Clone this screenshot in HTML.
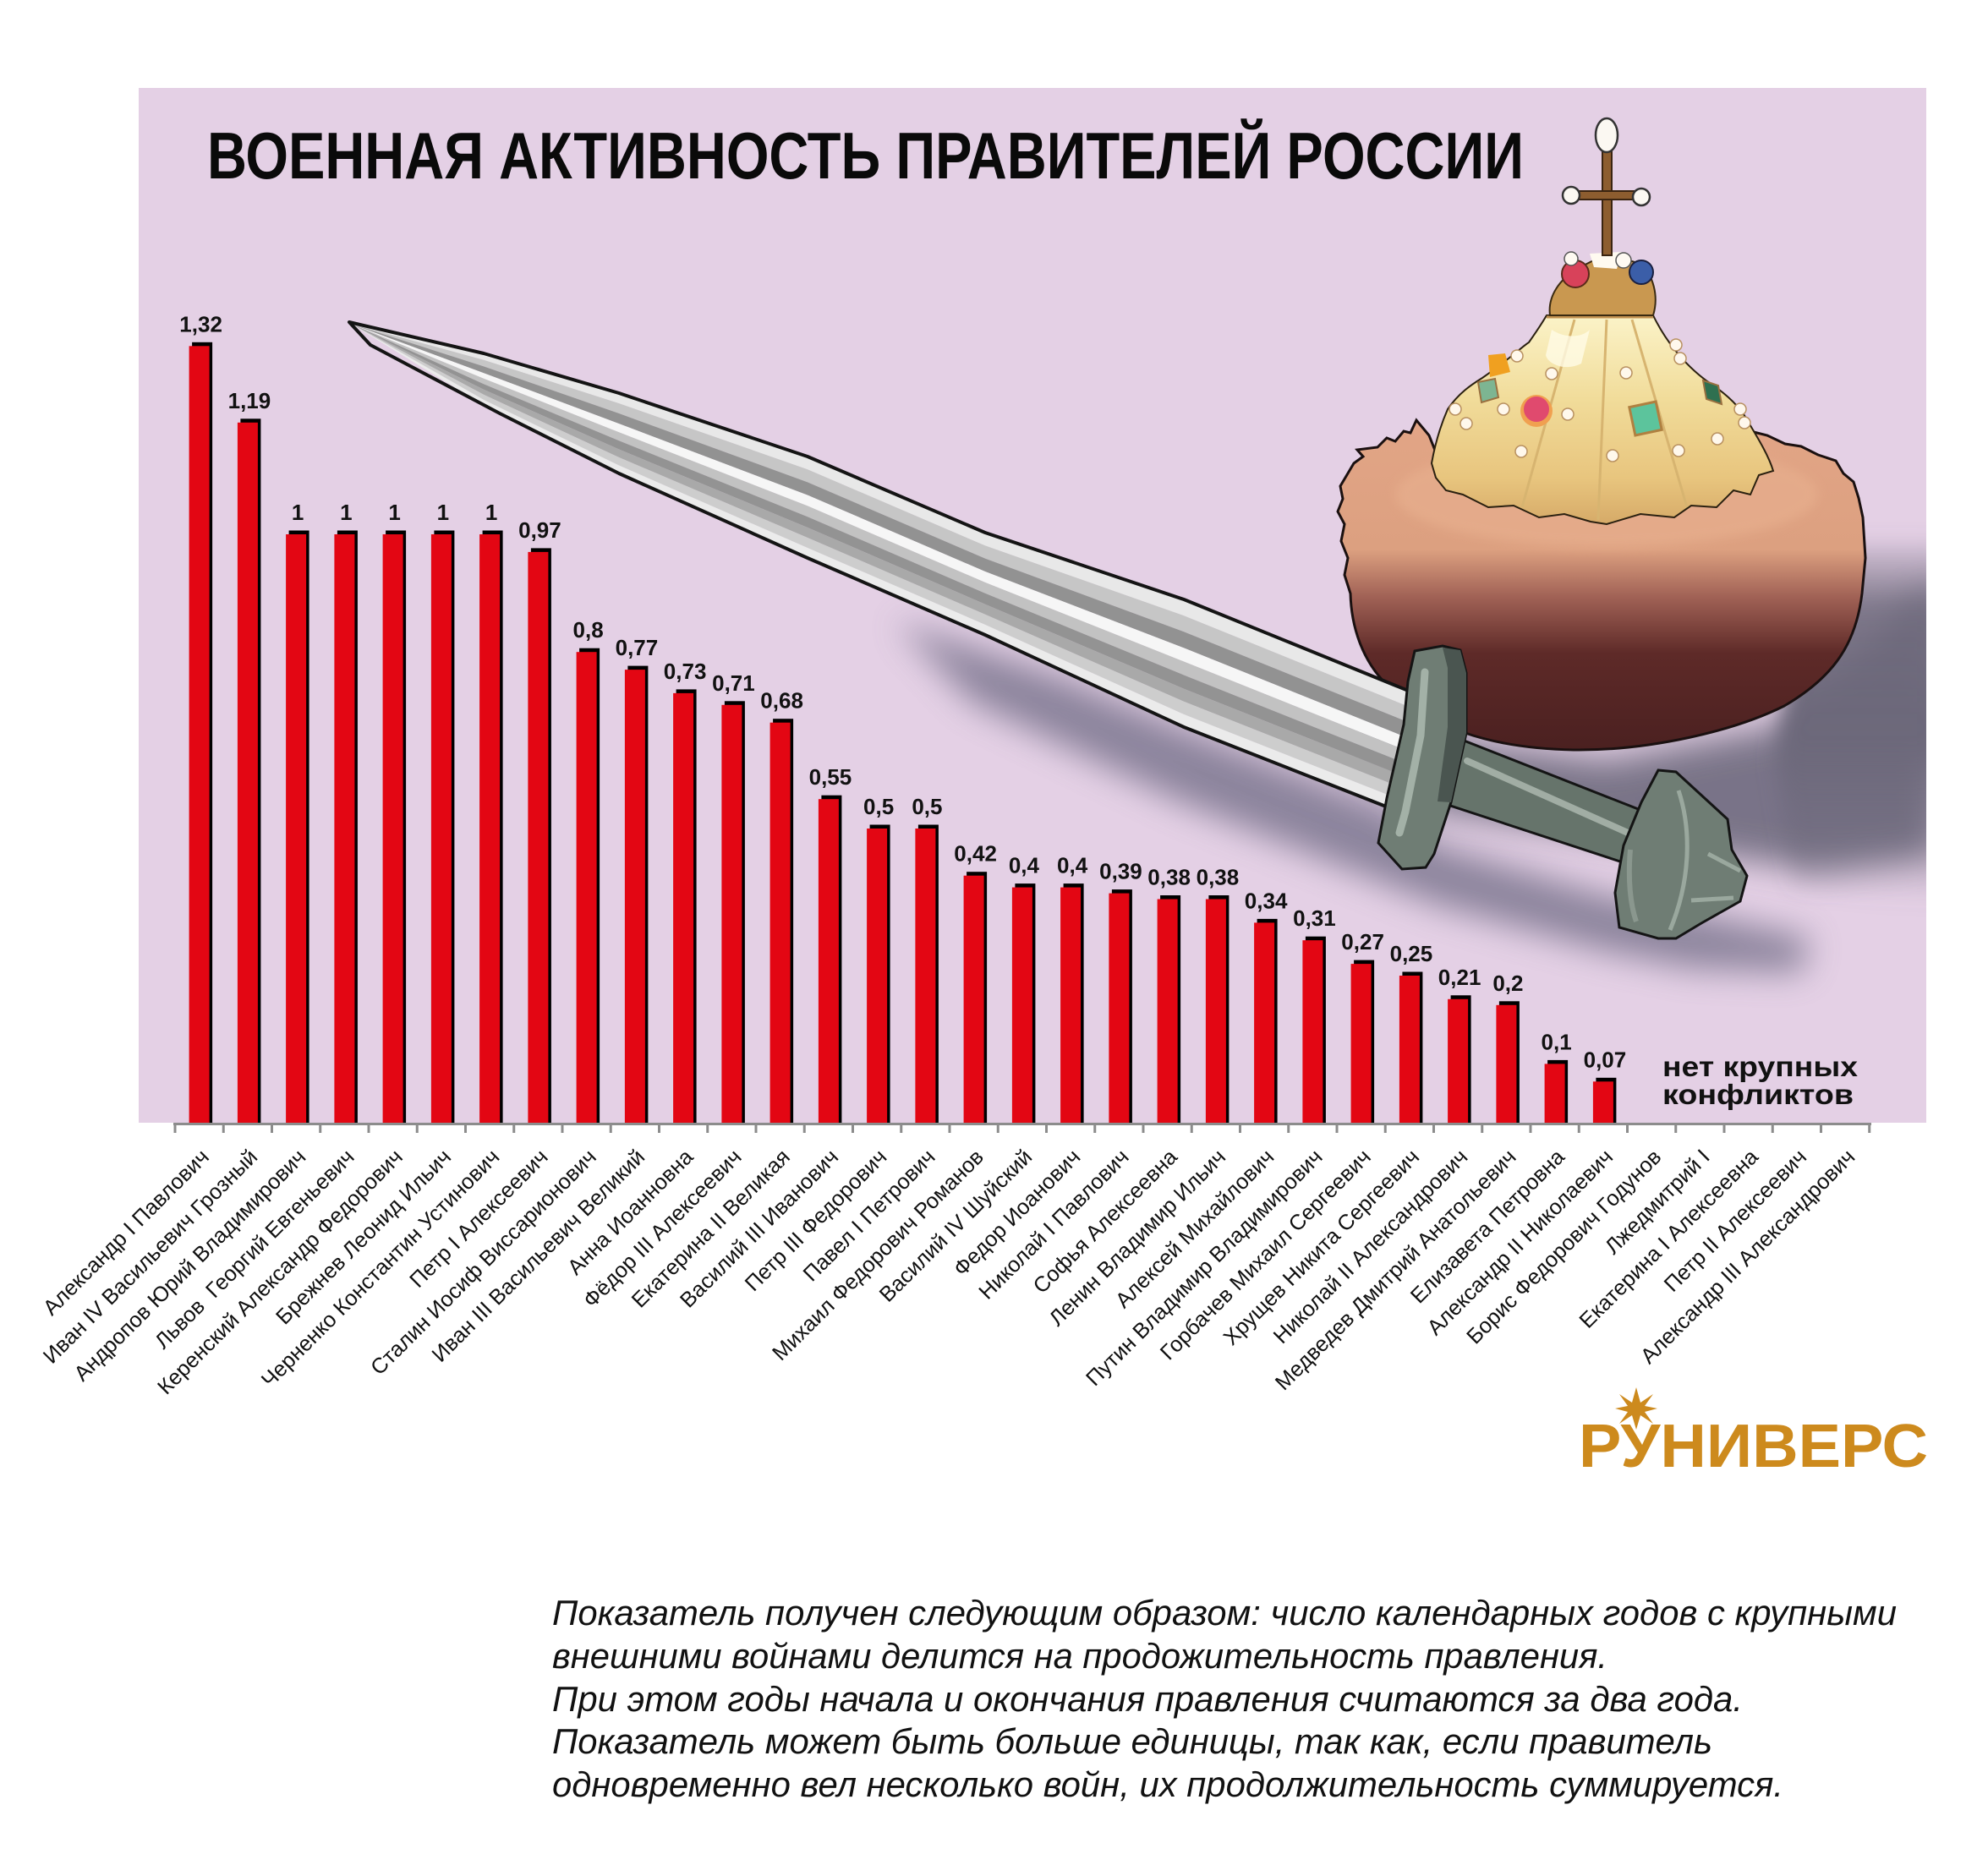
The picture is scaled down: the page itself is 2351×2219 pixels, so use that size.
<!DOCTYPE html>
<html><head><meta charset="utf-8"><style>
html,body{margin:0;padding:0;background:#fff;}
svg{display:block;}
.r{fill:#e30613;}
.k{fill:#000;}
.v{font-family:"Liberation Sans",Arial,sans-serif;font-weight:bold;font-size:26px;fill:#111;text-anchor:middle;}
.c{font-family:"Liberation Sans",Arial,sans-serif;font-size:25.5px;fill:#111;text-anchor:end;}
.n{font-family:"Liberation Sans",Arial,sans-serif;font-style:italic;font-size:42px;fill:#111;}
</style></head><body>
<svg width="2351" height="2219" viewBox="0 0 2351 2219" xmlns="http://www.w3.org/2000/svg">
<defs>
<clipPath id="plot"><rect x="164" y="104" width="2114" height="1224"/></clipPath>
<filter id="bl" x="-30%" y="-30%" width="160%" height="160%"><feGaussianBlur stdDeviation="20"/></filter>
<filter id="bl3" x="-30%" y="-30%" width="160%" height="160%"><feGaussianBlur stdDeviation="12"/></filter>
<filter id="bl2" x="-30%" y="-30%" width="160%" height="160%"><feGaussianBlur stdDeviation="6"/></filter>
<linearGradient id="fur" gradientUnits="userSpaceOnUse" x1="0" y1="500" x2="0" y2="890">
<stop offset="0" stop-color="#e2a586"/><stop offset="0.385" stop-color="#dca080"/><stop offset="0.53" stop-color="#a06155"/><stop offset="0.7" stop-color="#5e2a28"/><stop offset="1" stop-color="#4a2020"/>
</linearGradient>
<linearGradient id="dome" gradientUnits="userSpaceOnUse" x1="0" y1="373" x2="0" y2="620">
<stop offset="0" stop-color="#fbf3c8"/><stop offset="0.4" stop-color="#f1dc9a"/><stop offset="0.78" stop-color="#e8c57e"/><stop offset="1" stop-color="#d6aa68"/>
</linearGradient>
<linearGradient id="sh" gradientUnits="userSpaceOnUse" x1="0" y1="630" x2="0" y2="1070">
<stop offset="0" stop-color="#6c687a" stop-opacity="0"/><stop offset="0.2" stop-color="#6c687a" stop-opacity="0.85"/><stop offset="0.55" stop-color="#6c687a" stop-opacity="1"/><stop offset="1" stop-color="#6c687a" stop-opacity="0"/>
</linearGradient>
</defs>

<rect x="0" y="0" width="2351" height="2219" fill="#fff"/>
<rect x="164" y="104" width="2114" height="1224" fill="#e4d0e5"/>

<!-- shadows -->
<g clip-path="url(#plot)">
<polygon points="1060,735 1250,800 1400,862 1640,955 1700,1000 1900,1060 2050,1090 2140,1110 2130,1150 2000,1145 1900,1125 1700,1070 1400,950 1150,830" fill="#76718a" opacity="0.8" filter="url(#bl)"/>
<polygon points="1600,820 1750,880 1900,900 2100,860 2290,690 2290,1010 2150,1030 1900,990 1700,960 1600,900" fill="#6e6a7e" opacity="0.9" filter="url(#bl)"/>
<polygon points="2140,640 2300,640 2300,1070 2120,1050 2100,900" fill="url(#sh)" filter="url(#bl3)"/>
</g>

<!-- title -->
<text x="245" y="211" font-family="'Liberation Sans',Arial,sans-serif" font-weight="bold" font-size="78" fill="#0a0a0a" textLength="1557" lengthAdjust="spacingAndGlyphs">ВОЕННАЯ АКТИВНОСТЬ ПРАВИТЕЛЕЙ РОССИИ</text>

<!-- bars -->
<g clip-path="url(#plot)">
<g transform="translate(235.6 409.3)"><rect class="k" x="-8.5" y="-4.5" width="24" height="1000"/><rect class="r" x="-12" y="0" width="24" height="1000"/><text class="v" x="2" y="-17">1,32</text></g>
<g transform="translate(292.9 499.8)"><rect class="k" x="-8.5" y="-4.5" width="24" height="1000"/><rect class="r" x="-12" y="0" width="24" height="1000"/><text class="v" x="2" y="-17">1,19</text></g>
<g transform="translate(350.1 632)"><rect class="k" x="-8.5" y="-4.5" width="24" height="1000"/><rect class="r" x="-12" y="0" width="24" height="1000"/><text class="v" x="2" y="-17">1</text></g>
<g transform="translate(407.4 632)"><rect class="k" x="-8.5" y="-4.5" width="24" height="1000"/><rect class="r" x="-12" y="0" width="24" height="1000"/><text class="v" x="2" y="-17">1</text></g>
<g transform="translate(464.6 632)"><rect class="k" x="-8.5" y="-4.5" width="24" height="1000"/><rect class="r" x="-12" y="0" width="24" height="1000"/><text class="v" x="2" y="-17">1</text></g>
<g transform="translate(521.9 632)"><rect class="k" x="-8.5" y="-4.5" width="24" height="1000"/><rect class="r" x="-12" y="0" width="24" height="1000"/><text class="v" x="2" y="-17">1</text></g>
<g transform="translate(579.1 632)"><rect class="k" x="-8.5" y="-4.5" width="24" height="1000"/><rect class="r" x="-12" y="0" width="24" height="1000"/><text class="v" x="2" y="-17">1</text></g>
<g transform="translate(636.4 652.9)"><rect class="k" x="-8.5" y="-4.5" width="24" height="1000"/><rect class="r" x="-12" y="0" width="24" height="1000"/><text class="v" x="2" y="-17">0,97</text></g>
<g transform="translate(693.6 771.2)"><rect class="k" x="-8.5" y="-4.5" width="24" height="1000"/><rect class="r" x="-12" y="0" width="24" height="1000"/><text class="v" x="2" y="-17">0,8</text></g>
<g transform="translate(750.9 792.1)"><rect class="k" x="-8.5" y="-4.5" width="24" height="1000"/><rect class="r" x="-12" y="0" width="24" height="1000"/><text class="v" x="2" y="-17">0,77</text></g>
<g transform="translate(808.1 819.9)"><rect class="k" x="-8.5" y="-4.5" width="24" height="1000"/><rect class="r" x="-12" y="0" width="24" height="1000"/><text class="v" x="2" y="-17">0,73</text></g>
<g transform="translate(865.4 833.8)"><rect class="k" x="-8.5" y="-4.5" width="24" height="1000"/><rect class="r" x="-12" y="0" width="24" height="1000"/><text class="v" x="2" y="-17">0,71</text></g>
<g transform="translate(922.6 854.7)"><rect class="k" x="-8.5" y="-4.5" width="24" height="1000"/><rect class="r" x="-12" y="0" width="24" height="1000"/><text class="v" x="2" y="-17">0,68</text></g>
<g transform="translate(979.9 945.2)"><rect class="k" x="-8.5" y="-4.5" width="24" height="1000"/><rect class="r" x="-12" y="0" width="24" height="1000"/><text class="v" x="2" y="-17">0,55</text></g>
<g transform="translate(1037.1 980)"><rect class="k" x="-8.5" y="-4.5" width="24" height="1000"/><rect class="r" x="-12" y="0" width="24" height="1000"/><text class="v" x="2" y="-17">0,5</text></g>
<g transform="translate(1094.4 980)"><rect class="k" x="-8.5" y="-4.5" width="24" height="1000"/><rect class="r" x="-12" y="0" width="24" height="1000"/><text class="v" x="2" y="-17">0,5</text></g>
<g transform="translate(1151.6 1035.7)"><rect class="k" x="-8.5" y="-4.5" width="24" height="1000"/><rect class="r" x="-12" y="0" width="24" height="1000"/><text class="v" x="2" y="-17">0,42</text></g>
<g transform="translate(1208.9 1049.6)"><rect class="k" x="-8.5" y="-4.5" width="24" height="1000"/><rect class="r" x="-12" y="0" width="24" height="1000"/><text class="v" x="2" y="-17">0,4</text></g>
<g transform="translate(1266.1 1049.6)"><rect class="k" x="-8.5" y="-4.5" width="24" height="1000"/><rect class="r" x="-12" y="0" width="24" height="1000"/><text class="v" x="2" y="-17">0,4</text></g>
<g transform="translate(1323.4 1056.6)"><rect class="k" x="-8.5" y="-4.5" width="24" height="1000"/><rect class="r" x="-12" y="0" width="24" height="1000"/><text class="v" x="2" y="-17">0,39</text></g>
<g transform="translate(1380.6 1063.5)"><rect class="k" x="-8.5" y="-4.5" width="24" height="1000"/><rect class="r" x="-12" y="0" width="24" height="1000"/><text class="v" x="2" y="-17">0,38</text></g>
<g transform="translate(1437.9 1063.5)"><rect class="k" x="-8.5" y="-4.5" width="24" height="1000"/><rect class="r" x="-12" y="0" width="24" height="1000"/><text class="v" x="2" y="-17">0,38</text></g>
<g transform="translate(1495.1 1091.4)"><rect class="k" x="-8.5" y="-4.5" width="24" height="1000"/><rect class="r" x="-12" y="0" width="24" height="1000"/><text class="v" x="2" y="-17">0,34</text></g>
<g transform="translate(1552.4 1112.2)"><rect class="k" x="-8.5" y="-4.5" width="24" height="1000"/><rect class="r" x="-12" y="0" width="24" height="1000"/><text class="v" x="2" y="-17">0,31</text></g>
<g transform="translate(1609.6 1140.1)"><rect class="k" x="-8.5" y="-4.5" width="24" height="1000"/><rect class="r" x="-12" y="0" width="24" height="1000"/><text class="v" x="2" y="-17">0,27</text></g>
<g transform="translate(1666.9 1154)"><rect class="k" x="-8.5" y="-4.5" width="24" height="1000"/><rect class="r" x="-12" y="0" width="24" height="1000"/><text class="v" x="2" y="-17">0,25</text></g>
<g transform="translate(1724.1 1181.8)"><rect class="k" x="-8.5" y="-4.5" width="24" height="1000"/><rect class="r" x="-12" y="0" width="24" height="1000"/><text class="v" x="2" y="-17">0,21</text></g>
<g transform="translate(1781.4 1188.8)"><rect class="k" x="-8.5" y="-4.5" width="24" height="1000"/><rect class="r" x="-12" y="0" width="24" height="1000"/><text class="v" x="2" y="-17">0,2</text></g>
<g transform="translate(1838.6 1258.4)"><rect class="k" x="-8.5" y="-4.5" width="24" height="1000"/><rect class="r" x="-12" y="0" width="24" height="1000"/><text class="v" x="2" y="-17">0,1</text></g>
<g transform="translate(1895.9 1279.3)"><rect class="k" x="-8.5" y="-4.5" width="24" height="1000"/><rect class="r" x="-12" y="0" width="24" height="1000"/><text class="v" x="2" y="-17">0,07</text></g>
</g>

<!-- crown -->
<path d="M1601,548 L1612,540 L1605,532 L1629,529 L1640,518 L1650,522 L1660,510 L1668,512 L1675,497 L1690,515 L1700,540 L2074,511 L2090,515 L2111,525 L2130,528 L2150,538 L2171,545 L2180,560 L2192,570 L2198,589 L2203,612 L2206,660 L2202,702 C2195,760 2170,800 2110,835 C2050,865 1950,888 1861,887 C1760,885 1690,860 1640,810 C1610,780 1598,740 1597,702 L1590,680 L1594,660 L1586,640 L1590,620 L1582,605 L1588,590 L1585,575 Z" fill="url(#fur)" stroke="#1a1010" stroke-width="3"/>
<ellipse cx="1900" cy="585" rx="250" ry="62" fill="#e6ad8c" opacity="0.8" filter="url(#bl2)"/>
<path d="M1829,373 L1955,373 C1968,400 1990,430 2019,451 C2045,468 2060,484 2068,500 C2080,520 2092,540 2097,557 L2080,562 L2070,585 L2050,580 L2030,600 L2000,598 L1980,612 L1940,608 L1900,620 L1881,617 L1850,608 L1820,612 L1790,598 L1760,600 L1730,585 L1710,580 L1698,565 L1693,548 C1698,520 1705,500 1712,484 C1725,465 1740,455 1753,447 C1785,425 1800,410 1808,405 C1815,395 1822,385 1829,373 Z" fill="url(#dome)" stroke="#2a2010" stroke-width="2"/>
<path d="M1862,378 L1800,600 M1900,378 L1890,615 M1930,378 L1995,600" stroke="#d7b470" stroke-width="3" fill="none"/>
<path d="M1835,390 C1850,400 1870,400 1880,390 L1870,430 C1850,440 1830,430 1828,420 Z" fill="#fffbe6" opacity="0.8"/>
<line x1="1829" y1="375" x2="1955" y2="375" stroke="#c09050" stroke-width="3"/>
<path d="M1833,373 C1830,350 1845,330 1865,318 L1900,300 L1940,312 C1955,325 1962,350 1955,373 Z" fill="#c99850" stroke="#3a2a10" stroke-width="2"/>
<path d="M1880,300 L1918,298 L1912,318 L1885,316 Z" fill="#fffaf0"/>
<rect x="1895" y="172" width="11" height="130" fill="#8d5d2f" stroke="#3b2410" stroke-width="2"/>
<rect x="1858" y="226" width="84" height="10" fill="#8d5d2f" stroke="#3b2410" stroke-width="2"/>
<ellipse cx="1900" cy="160" rx="13" ry="20" fill="#fbf8f2" stroke="#333" stroke-width="2.5"/>
<circle cx="1858" cy="231" r="10" fill="#fbf8f2" stroke="#333" stroke-width="2.5"/>
<circle cx="1941" cy="233" r="10" fill="#fbf8f2" stroke="#333" stroke-width="2.5"/>
<circle cx="1863" cy="324" r="16" fill="#d8425a" stroke="#5a2a1a" stroke-width="2"/>
<circle cx="1941" cy="322" r="14" fill="#3b5ea8" stroke="#1a2040" stroke-width="2"/>
<circle cx="1858" cy="306" r="8" fill="#fffaf2" stroke="#555" stroke-width="1.5"/>
<circle cx="1920" cy="308" r="9" fill="#fffaf2" stroke="#555" stroke-width="1.5"/>
<circle cx="1817" cy="486" r="19" fill="#f0a050"/>
<circle cx="1817" cy="484" r="15" fill="#e04a6e"/>
<rect x="1930" y="478" width="32" height="34" fill="#5cc49c" stroke="#b08040" stroke-width="3" transform="rotate(-12 1946 495)"/>
<polygon points="1760,420 1780,418 1786,440 1762,446" fill="#f0a020"/>
<polygon points="1748,452 1768,448 1772,470 1752,476" fill="#7db592" stroke="#9a7040" stroke-width="2"/>
<polygon points="2014,450 2032,456 2036,478 2018,472" fill="#2f7050" stroke="#9a7040" stroke-width="2"/>
<g fill="#fff8ec" stroke="#b89060" stroke-width="1.5">
<circle cx="1794" cy="421" r="7"/><circle cx="1835" cy="442" r="7"/><circle cx="1923" cy="441" r="7"/><circle cx="1982" cy="408" r="7"/><circle cx="1987" cy="424" r="7"/><circle cx="1721" cy="484" r="7"/><circle cx="1734" cy="501" r="7"/><circle cx="1778" cy="484" r="7"/><circle cx="1854" cy="490" r="7"/><circle cx="1799" cy="534" r="7"/><circle cx="1907" cy="539" r="7"/><circle cx="1985" cy="533" r="7"/><circle cx="2031" cy="519" r="7"/><circle cx="2058" cy="484" r="7"/><circle cx="2063" cy="500" r="7"/>
</g>

<!-- sword blade -->
<g>
<polygon points="415,383 572,418 732,465 955,540 1165,630 1400,709 1690,827 1690,845.7 1400,728.2 1165,645.4 955,555.2 732,477.1 572,425.7" fill="#e8e8e8"/>
<polygon points="415,383 572,425.7 732,477.1 955,555.2 1165,645.4 1400,728.2 1690,845.7 1690,864.2 1400,747.2 1165,660.6 955,570.4 732,489 572,433.4" fill="#c6c6c6"/>
<polygon points="415,383 572,433.4 732,489 955,570.4 1165,660.6 1400,747.2 1690,864.2 1690,882.9 1400,766.4 1165,676 955,585.6 732,501.1 572,441.2" fill="#929292"/>
<polygon points="415,383 572,441.2 732,501.1 955,585.6 1165,676 1400,766.4 1690,882.9 1690,898.6 1400,782.5 1165,688.9 955,598.4 732,511.3 572,447.7" fill="#f6f6f6"/>
<polygon points="415,383 572,447.7 732,511.3 955,598.4 1165,688.9 1400,782.5 1690,898.6 1690,914.2 1400,798.5 1165,701.8 955,611.2 732,521.3 572,454.2" fill="#c2c2c2"/>
<polygon points="415,383 572,454.2 732,521.3 955,611.2 1165,701.8 1400,798.5 1690,914.2 1690,929.9 1400,814.7 1165,714.7 955,624 732,531.5 572,460.7" fill="#939393"/>
<polygon points="415,383 572,460.7 732,531.5 955,624 1165,714.7 1400,814.7 1690,929.9 1690,944.6 1400,829.8 1165,726.8 955,636 732,541 572,466.8" fill="#a9a9a9"/>
<polygon points="415,383 572,466.8 732,541 955,636 1165,726.8 1400,829.8 1690,944.6 1690,959.3 1400,844.9 1165,738.9 955,648 732,550.5 572,472.9" fill="#cdcdcd"/>
<polygon points="415,383 572,472.9 732,550.5 955,648 1165,738.9 1400,844.9 1690,959.3 1690,974 1400,860 1165,751 955,660 732,560 572,479" fill="#ebebeb"/>
<polygon points="413,381 572,418 732,465 955,540 1165,630 1400,709 1690,827 1690,974 1400,860 1165,751 955,660 732,560 591,489 438,408" fill="none" stroke="#141414" stroke-width="4" stroke-linejoin="round"/>
</g>
<!-- grip -->
<polygon points="1716,870 1950,962 1925,1022 1700,948" fill="#66746b" stroke="#141414" stroke-width="3"/>
<path d="M1735,900 L1925,985" stroke="#a1ada4" stroke-width="8" stroke-linecap="round" fill="none"/>
<!-- guard -->
<polygon points="1673,770 1706,764 1727,769 1734,796 1734,867 1716,949 1696,1010 1686,1026 1658,1028 1630,997 1640,944 1660,857 1665,806" fill="#6f7d74" stroke="#141414" stroke-width="3"/>
<polygon points="1706,766 1727,769 1734,796 1734,867 1716,949 1700,948 1712,860 1712,790" fill="#4a5550"/>
<path d="M1685,795 L1680,870 L1662,960 L1655,985" stroke="#a3b1a7" stroke-width="9" stroke-linecap="round" fill="none"/>
<!-- pommel -->
<polygon points="1941,949 1961,911 1982,913 2043,969 2048,1005 2066,1036 2058,1066 2012,1092 1982,1110 1961,1110 1915,1097 1910,1056 1920,1000" fill="#6f7d74" stroke="#141414" stroke-width="3"/>
<path d="M1985,935 C2000,980 2000,1040 1975,1100 M2020,1010 L2058,1030 M2000,1065 L2050,1062" stroke="#9aa89e" stroke-width="5" fill="none"/>
<path d="M1928,1005 C1925,1040 1928,1070 1935,1090" stroke="#8a978e" stroke-width="6" fill="none"/>

<!-- axis -->
<line x1="205" y1="1329.5" x2="2213" y2="1329.5" stroke="#8c8c8c" stroke-width="3"/>
<path d="M207,1329v11M264.25,1329v11M321.5,1329v11M378.75,1329v11M436,1329v11M493.25,1329v11M550.5,1329v11M607.75,1329v11M665,1329v11M722.25,1329v11M779.5,1329v11M836.75,1329v11M894,1329v11M951.25,1329v11M1008.5,1329v11M1065.75,1329v11M1123,1329v11M1180.25,1329v11M1237.5,1329v11M1294.75,1329v11M1352,1329v11M1409.25,1329v11M1466.5,1329v11M1523.75,1329v11M1581,1329v11M1638.25,1329v11M1695.5,1329v11M1752.75,1329v11M1810,1329v11M1867.25,1329v11M1924.5,1329v11M1981.75,1329v11M2039,1329v11M2096.25,1329v11M2153.5,1329v11M2210.75,1329v11" stroke="#8c8c8c" stroke-width="3"/>

<!-- category labels -->
<text class="c" transform="translate(248.6 1370) rotate(-45)">Александр I Павлович</text>
<text class="c" transform="translate(305.9 1370) rotate(-45)">Иван IV Васильевич Грозный</text>
<text class="c" transform="translate(363.1 1370) rotate(-45)">Андропов Юрий Владимирович</text>
<text class="c" transform="translate(420.4 1370) rotate(-45)">Львов&#160; Георгий Евгеньевич</text>
<text class="c" transform="translate(477.6 1370) rotate(-45)">Керенский Александр Федорович</text>
<text class="c" transform="translate(534.9 1370) rotate(-45)">Брежнев Леонид Ильич</text>
<text class="c" transform="translate(592.1 1370) rotate(-45)">Черненко Константин Устинович</text>
<text class="c" transform="translate(649.4 1370) rotate(-45)">Петр I Алексеевич</text>
<text class="c" transform="translate(706.6 1370) rotate(-45)">Сталин Иосиф Виссарионович</text>
<text class="c" transform="translate(763.9 1370) rotate(-45)">Иван III Васильевич Великий</text>
<text class="c" transform="translate(821.1 1370) rotate(-45)">Анна Иоанновна</text>
<text class="c" transform="translate(878.4 1370) rotate(-45)">Фёдор III Алексеевич</text>
<text class="c" transform="translate(935.6 1370) rotate(-45)">Екатерина II Великая</text>
<text class="c" transform="translate(992.9 1370) rotate(-45)">Василий III Иванович</text>
<text class="c" transform="translate(1050.1 1370) rotate(-45)">Петр III Федорович</text>
<text class="c" transform="translate(1107.4 1370) rotate(-45)">Павел I Петрович</text>
<text class="c" transform="translate(1164.6 1370) rotate(-45)">Михаил Федорович Романов</text>
<text class="c" transform="translate(1221.9 1370) rotate(-45)">Василий IV Шуйский</text>
<text class="c" transform="translate(1279.1 1370) rotate(-45)">Федор Иоанович</text>
<text class="c" transform="translate(1336.4 1370) rotate(-45)">Николай I Павлович</text>
<text class="c" transform="translate(1393.6 1370) rotate(-45)">Софья Алексеевна</text>
<text class="c" transform="translate(1450.9 1370) rotate(-45)">Ленин Владимир Ильич</text>
<text class="c" transform="translate(1508.1 1370) rotate(-45)">Алексей Михайлович</text>
<text class="c" transform="translate(1565.4 1370) rotate(-45)">Путин Владимир Владимирович</text>
<text class="c" transform="translate(1622.6 1370) rotate(-45)">Горбачев Михаил Сергеевич</text>
<text class="c" transform="translate(1679.9 1370) rotate(-45)">Хрущев Никита Сергеевич</text>
<text class="c" transform="translate(1737.1 1370) rotate(-45)">Николай II Александрович</text>
<text class="c" transform="translate(1794.4 1370) rotate(-45)">Медведев Дмитрий Анатольевич</text>
<text class="c" transform="translate(1851.6 1370) rotate(-45)">Елизавета Петровна</text>
<text class="c" transform="translate(1908.9 1370) rotate(-45)">Александр II Николаевич</text>
<text class="c" transform="translate(1966.1 1370) rotate(-45)">Борис Федорович Годунов</text>
<text class="c" transform="translate(2023.4 1370) rotate(-45)">Лжедмитрий I</text>
<text class="c" transform="translate(2080.6 1370) rotate(-45)">Екатерина I Алексеевна</text>
<text class="c" transform="translate(2137.9 1370) rotate(-45)">Петр II Алексеевич</text>
<text class="c" transform="translate(2195.1 1370) rotate(-45)">Александр III Александрович</text>

<!-- no conflicts note -->
<text x="1966" y="1273" font-family="'Liberation Sans',Arial,sans-serif" font-weight="bold" font-size="33" fill="#111" textLength="231" lengthAdjust="spacingAndGlyphs">нет крупных</text>
<text x="1966" y="1306" font-family="'Liberation Sans',Arial,sans-serif" font-weight="bold" font-size="33" fill="#111" textLength="226" lengthAdjust="spacingAndGlyphs">конфликтов</text>

<!-- logo -->
<text x="1867" y="1735" font-family="'Liberation Sans',Arial,sans-serif" font-weight="bold" font-size="72" fill="#cd8a1d" textLength="413" lengthAdjust="spacingAndGlyphs">РУНИВЕРС</text>
<polygon points="1935,1641 1940,1659 1955,1649 1945,1663 1960,1666 1945,1670 1955,1684 1940,1674 1935,1691 1930,1674 1915,1684 1925,1670 1910,1666 1925,1663 1915,1649 1930,1659" fill="#cd8a1d"/>

<!-- note -->
<text class="n" x="653" y="1922" textLength="1590" lengthAdjust="spacingAndGlyphs">Показатель получен следующим образом: число календарных годов с крупными</text>
<text class="n" x="653" y="1973" textLength="1248" lengthAdjust="spacingAndGlyphs">внешними войнами делится на продожительность правления.</text>
<text class="n" x="653" y="2024" textLength="1408" lengthAdjust="spacingAndGlyphs">При этом годы начала и окончания правления считаются за два года.</text>
<text class="n" x="653" y="2074" textLength="1372" lengthAdjust="spacingAndGlyphs">Показатель может быть больше единицы, так как, если правитель</text>
<text class="n" x="653" y="2125" textLength="1456" lengthAdjust="spacingAndGlyphs">одновременно вел несколько войн, их продолжительность суммируется.</text>
</svg>
</body></html>
